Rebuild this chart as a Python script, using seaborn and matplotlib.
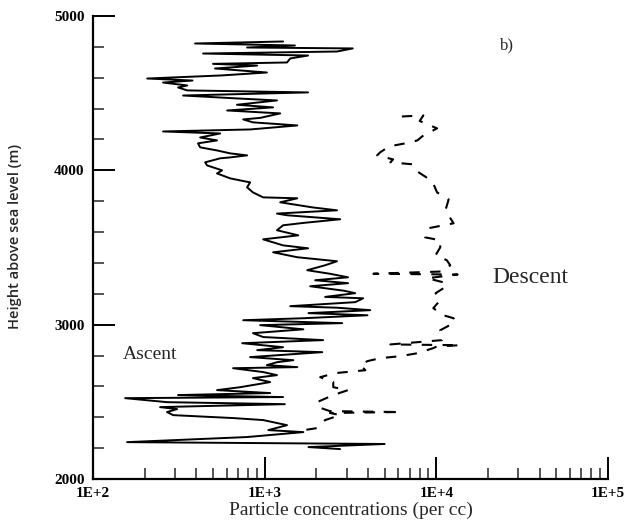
import numpy as np
import pandas as pd
import matplotlib
matplotlib.use("Agg")
import matplotlib.pyplot as plt
import seaborn as sns
from matplotlib.ticker import FixedLocator, LogLocator, NullFormatter, FixedFormatter

# ---- data (height m, concentration per cc) ----
ascent_height = [2194, 2207, 2227, 2239, 2272, 2304, 2317, 2349, 2382, 2395,
                 2414, 2434, 2453, 2466, 2485, 2498, 2524, 2531, 2544, 2557,
                 2576, 2595, 2628, 2654, 2673, 2693, 2718, 2725, 2738, 2757,
                 2770, 2790, 2822, 2835, 2854, 2880, 2900, 2920, 2945, 2970,
                 2997, 3010, 3029, 3042, 3061, 3075, 3094, 3110, 3120, 3146,
                 3171, 3180, 3204, 3220, 3249, 3269, 3288, 3307, 3330, 3353,
                 3385, 3411, 3437, 3469, 3495, 3514, 3553, 3579, 3612, 3644,
                 3660, 3683, 3709, 3720, 3741, 3760, 3793, 3819, 3825, 3857,
                 3890, 3922, 3948, 3980, 4000, 4032, 4052, 4078, 4084, 4097,
                 4110, 4129, 4149, 4175, 4194, 4213, 4239, 4252, 4265, 4291,
                 4311, 4330, 4340, 4369, 4388, 4408, 4425, 4453, 4466, 4485,
                 4505, 4518, 4537, 4550, 4569, 4582, 4595, 4615, 4634, 4660,
                 4679, 4690, 4699, 4725, 4744, 4757, 4770, 4790, 4796, 4809,
                 4822, 4835]
ascent_conc = [2750, 1800, 5000, 158, 790, 1680, 1050, 1350, 980, 655,
               293, 270, 309, 246, 1310, 270, 154, 1280, 313, 1077,
               528, 720, 1077, 855, 1180, 980, 655, 1550, 1030, 1180,
               1470, 823, 2165, 905, 1280, 740, 2190, 980, 855, 1680,
               942, 2830, 750, 1700, 3970, 1800, 4120, 2640, 1410, 3370,
               3750, 2250, 3370, 2900, 1842, 3060, 1970, 3060, 2400, 1770,
               2250, 2640, 1550, 1120, 1790, 1280, 980, 1570, 1180, 1280,
               1700, 2755, 1350, 1180, 2640, 1900, 1232, 1550, 980, 855,
               790, 823, 630, 528, 565, 462, 450, 551, 630, 790,
               630, 528, 421, 409, 528, 421, 551, 256, 823, 1550,
               855, 750, 942, 1232, 605, 1120, 690, 1180, 690, 335,
               1790, 354, 313, 354, 256, 380, 207, 560, 1030, 514,
               905, 500, 1350, 1409, 1790, 438, 2640, 3260, 790, 1500,
               393, 1280]

descent_height = [4349, 4356, 4320, 4272, 4226, 4194, 4175, 4155, 4116, 4097,
                  4071, 4052, 4039, 3993, 3929, 3857, 3812, 3741, 3657, 3625,
                  3566, 3547, 3501, 3450, 3418, 3385, 3345, 3330, 3325, 3301,
                  3269, 3236, 3204, 3159, 3107, 3061, 3042, 3016, 2964, 2932,
                  2900, 2872, 2867, 2860, 2848, 2815, 2796, 2783, 2764, 2738,
                  2705, 2686, 2660, 2628, 2595, 2576, 2544, 2498, 2466, 2440,
                  2434, 2428, 2414, 2382, 2330, 2317]
descent_conc = [6300, 8400, 8000, 10100, 8400, 7750, 6600, 5300, 4700, 4520,
                5600, 5400, 7300, 7750, 9480, 10100, 11800, 11300, 12600, 9000,
                8600, 10540, 10540, 9900, 11500, 12050, 11000, 4300, 13300, 8850,
                11500, 11000, 9900, 10540, 9600, 11000, 12600, 12900, 10540, 11000,
                10800, 5400, 13800, 10100, 9600, 7750, 6160, 4712, 3970, 3603,
                3860, 2570, 2107, 2510, 2510, 3060, 2510, 2020, 2050, 2400,
                6160, 2400, 2755, 2250, 2020, 1700]

x_ticks = [1e2, 1e3, 1e4, 1e5]
x_tick_labels = ["1E+2", "1E+3", "1E+4", "1E+5"]
y_ticks = [2000, 3000, 4000, 5000]
y_tick_labels = ["2000", "3000", "4000", "5000"]

# ---- plot ----
sns.set_style("ticks")
plt.rcParams["font.family"] = ["Liberation Serif", "DejaVu Serif"]

fig = plt.figure(figsize=(6.27, 5.20), dpi=100)
ax = fig.add_axes([0.1483, 0.0788, 0.8214, 0.8904])

asc = pd.DataFrame({"height": ascent_height, "conc": ascent_conc})
des = pd.DataFrame({"height": descent_height, "conc": descent_conc})

sns.lineplot(data=asc, x="conc", y="height", sort=False, estimator=None,
             color="black", linewidth=1.4, ax=ax)
sns.lineplot(data=des, x="conc", y="height", sort=False, estimator=None,
             color="black", linewidth=1.5, ax=ax)
ax.lines[-1].set_dashes([5, 5])

ax.set_xscale("log")
ax.set_xlim(1e2, 1e5)
ax.set_ylim(2000, 5000)

ax.xaxis.set_major_locator(FixedLocator(x_ticks))
ax.xaxis.set_major_formatter(FixedFormatter(x_tick_labels))
ax.xaxis.set_minor_locator(LogLocator(base=10, subs=np.arange(2, 10)))
ax.xaxis.set_minor_formatter(NullFormatter())
ax.yaxis.set_major_locator(FixedLocator(y_ticks))
ax.yaxis.set_major_formatter(FixedFormatter(y_tick_labels))
ax.yaxis.set_minor_locator(FixedLocator(np.arange(2200, 5000, 200)))

ax.tick_params(axis="both", which="major", direction="in", length=16, width=1.4,
               labelsize=11, colors="black", pad=6)
ax.tick_params(axis="both", which="minor", direction="in", length=8, width=1.1)
for lab in ax.get_xticklabels() + ax.get_yticklabels():
    lab.set_fontweight("bold")

for s in ["top", "right"]:
    ax.spines[s].set_visible(False)
for s in ["left", "bottom"]:
    ax.spines[s].set_linewidth(1.6)
    ax.spines[s].set_color("black")

ax.set_xlabel("Particle concentrations (per cc)", fontsize=14, labelpad=1)
ax.set_ylabel("Height above sea level (m)", fontsize=10.5, fontweight="semibold",
              family=["Open Sans", "DejaVu Sans"])
ax.yaxis.set_label_coords(-0.137, 0.523)

ax.text(0.058, 0.268, "Ascent", transform=ax.transAxes, fontsize=14, ha="left", va="center")
ax.text(0.775, 0.435, "Descent", transform=ax.transAxes, fontsize=17, ha="left", va="center")
ax.text(0.79, 0.936, "b)", transform=ax.transAxes, fontsize=12, ha="left", va="center")

fig.savefig("out.png", dpi=100, facecolor="white")
